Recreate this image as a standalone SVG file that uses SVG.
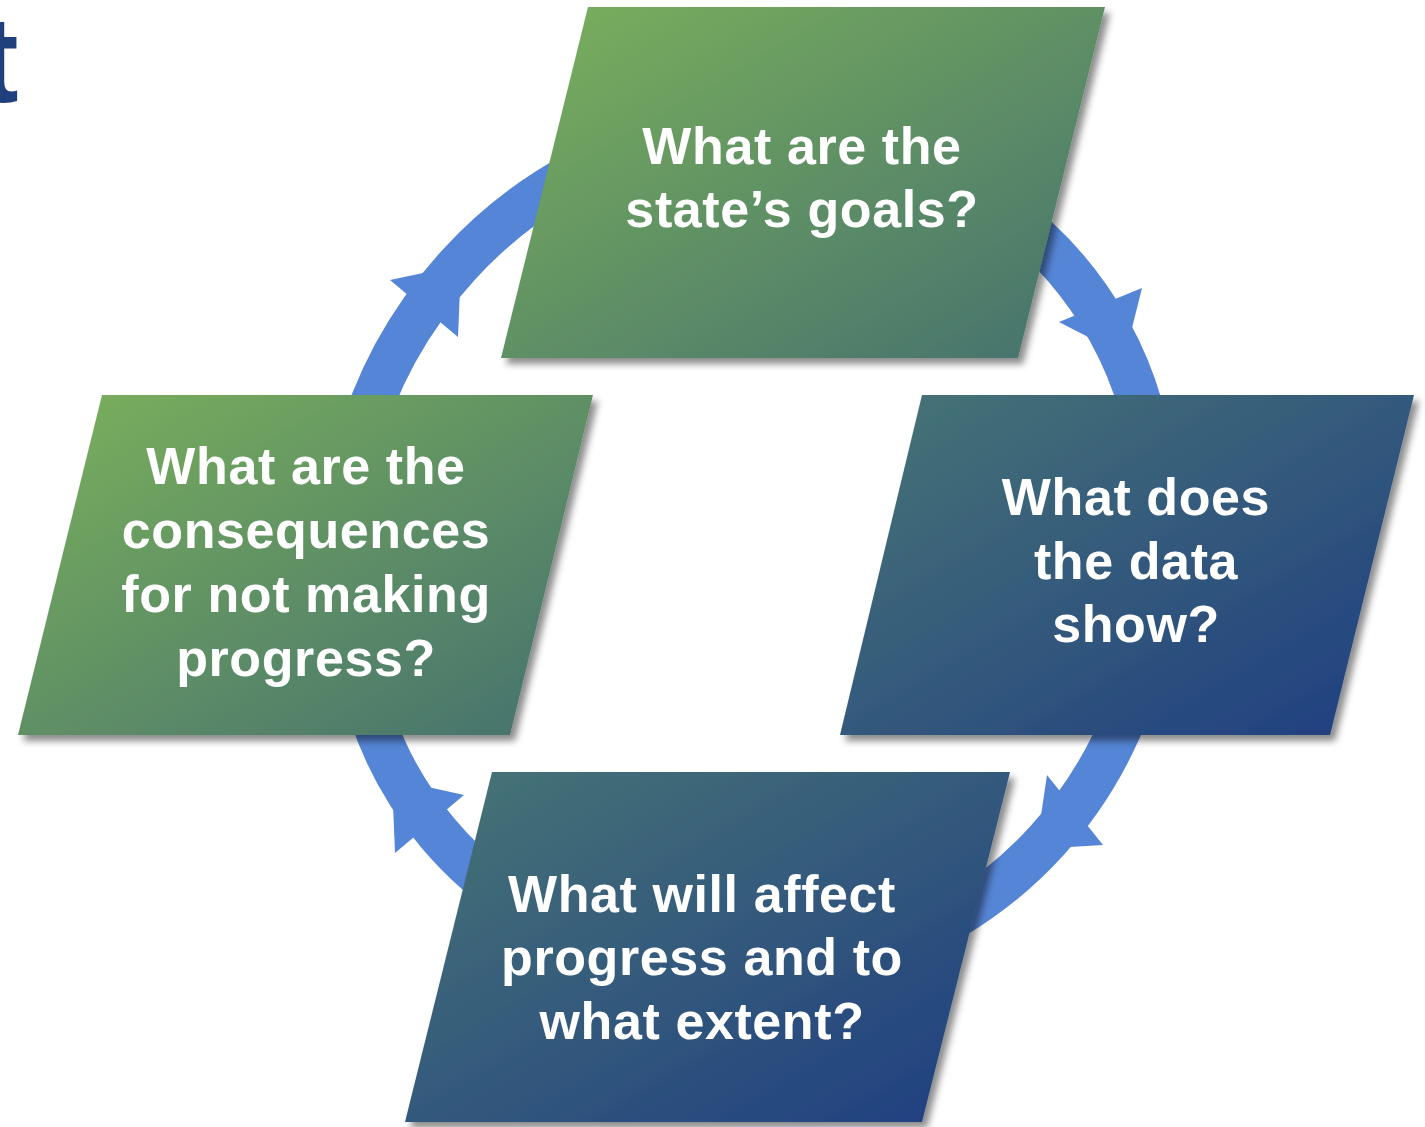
<svg xmlns="http://www.w3.org/2000/svg" width="1425" height="1127" viewBox="0 0 1425 1127">
<defs>
<style>
.arc{fill:none;stroke:#5585D6;stroke-width:44}
.head{fill:#5585D6}
.lbl{font-family:"Liberation Sans",Arial,sans-serif;font-weight:bold;font-size:52px;letter-spacing:0.6px;fill:#FFFFFF;text-anchor:middle}
.title{font-family:"Liberation Sans",Arial,sans-serif;font-weight:bold;font-size:122px;fill:#1F3F7D}
.node{filter:url(#sh)}
</style>
<linearGradient id="gGreen" x1="0" y1="0" x2="1" y2="1">
<stop offset="0" stop-color="#7BB15B"/>
<stop offset="1" stop-color="#44706F"/>
</linearGradient>
<linearGradient id="gBlue" x1="0" y1="0" x2="1" y2="1">
<stop offset="0" stop-color="#487575"/>
<stop offset="1" stop-color="#1E3D82"/>
</linearGradient>
<filter id="sh" x="-10%" y="-10%" width="125%" height="125%">
<feDropShadow dx="5" dy="6" stdDeviation="3.5" flood-color="#000000" flood-opacity="0.45"/>
</filter>
</defs>
<rect width="1425" height="1127" fill="#FFFFFF"/>
<text class="title" x="-22" y="102">t</text>
<g id="connectors">
<path class="arc" d="M 356.2 451.3 A 447 447 0 0 1 635.1 147.0"/>
<polygon class="head" points="390,280 461,265 458,337"/>
<path class="arc" d="M 971.5 190.2 A 367 367 0 0 1 1149.4 444.3"/>
<polygon class="head" points="1142,288 1125,356 1059,322"/>
<path class="arc" d="M 1148.2 634.6 A 412.5 412.5 0 0 1 848.8 961.4"/>
<polygon class="head" points="1103,845 1036,849 1047,775"/>
<path class="arc" d="M 589.9 939.3 A 360 360 0 0 1 358.5 663.5"/>
<polygon class="head" points="464,795 392,779 395,853"/>
</g>
<g id="node-goals">
<polygon class="node" points="588,7 1105,7 1018,358 501,358" fill="url(#gGreen)"/>
<text class="lbl" x="802" y="163.5">What are the</text>
<text class="lbl" x="802" y="227">state’s goals?</text>
</g>
<g id="node-data">
<polygon class="node" points="922,395 1414,395 1330,735 840,735" fill="url(#gBlue)"/>
<text class="lbl" x="1136" y="515">What does</text>
<text class="lbl" x="1136" y="579">the data</text>
<text class="lbl" x="1136" y="642">show?</text>
</g>
<g id="node-affect">
<polygon class="node" points="492,772 1010,772 922,1122 405,1122" fill="url(#gBlue)"/>
<text class="lbl" x="702" y="912">What will affect</text>
<text class="lbl" x="702" y="975">progress and to</text>
<text class="lbl" x="702" y="1039">what extent?</text>
</g>
<g id="node-consequences">
<polygon class="node" points="102,395 593,395 510,735 18,735" fill="url(#gGreen)"/>
<text class="lbl" x="306" y="484">What are the</text>
<text class="lbl" x="306" y="548">consequences</text>
<text class="lbl" x="306" y="612">for not making</text>
<text class="lbl" x="306" y="676">progress?</text>
</g>
</svg>
